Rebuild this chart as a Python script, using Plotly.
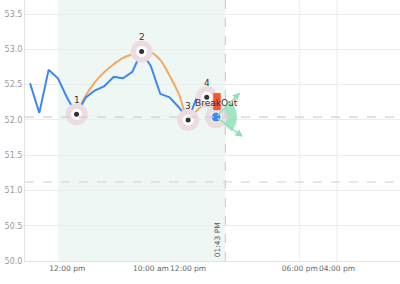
import numpy as np
import plotly.graph_objects as go

# ---- data ----
idx = list(range(21))
price = [52.52, 52.10, 52.71, 52.59, 52.31, 52.08, 52.32, 52.42, 52.48, 52.61,
         52.59, 52.68, 52.97, 52.76, 52.37, 52.32, 52.18, 52.00, 52.34, 52.32, 52.04]
curve_x = [5, 6, 7, 8, 9, 10, 11, 12, 13, 14, 15, 16, 17, 18, 19, 19.7]
curve_y = [52.08, 52.35, 52.54, 52.68, 52.79, 52.88, 52.93, 52.97, 52.96, 52.85,
           52.63, 52.37, 52.03, 52.14, 52.25, 52.30]
pivot_idx = [5, 12, 17, 19]
pivot_labels = ["1", "2", "3", "4"]
breakout_idx = 20
breakout_box = [19.7, 20.5, 52.14, 52.38]   # x0, x1, y0, y1
support_levels = [52.04, 51.12]
shade_range = [3, 21]
marker_time_idx = 21
marker_time_label = "01:43 PM"
tick_vals = [4, 13, 17, 29, 33]
tick_text = ["12:00 pm", "10:00 am", "12:00 pm", "06:00 pm", "04:00 pm"]
arrow_tips = [(22.6, 52.39), (22.9, 51.76)]
x_range = [-0.54, 39.78]
y_range = [50.0, 53.70]

# ---- layout geometry ----
W, H = 400, 284
ML, MR, MT, MB = 25, 0, 0, 23
pw, ph = W - ML - MR, H - MT - MB
px_per_x = pw / (x_range[1] - x_range[0])
px_per_y = ph / (y_range[1] - y_range[0])

fig = go.Figure()

blue = "#3d87ef"
halo = "#ecdce1"

fig.add_trace(go.Scatter(x=curve_x, y=curve_y, mode="lines", line=dict(color="#f6a862", width=2, shape="spline"),
                         hoverinfo="skip"))
fig.add_trace(go.Scatter(x=idx, y=price, mode="lines", line=dict(color=blue, width=2), hoverinfo="skip"))

# breakout box
fig.add_shape(type="rect", x0=breakout_box[0], x1=breakout_box[1], y0=breakout_box[2], y1=breakout_box[3],
              fillcolor="#f2582b", line=dict(width=0), layer="above")

# sector (fan) at breakout
bx, by = breakout_idx, price[breakout_idx]
ang = np.radians(np.linspace(-42, 50, 30))
r = 21
sx = [bx] + list(bx + r * np.cos(ang) / px_per_x) + [bx]
sy = [by] + list(by + r * np.sin(ang) / px_per_y) + [by]
fig.add_trace(go.Scatter(x=sx, y=sy, mode="lines", fill="toself", fillcolor="rgba(130,222,175,0.75)",
                         line=dict(width=0), hoverinfo="skip"))

# pivot halos
pvx = pivot_idx + [breakout_idx]
pvy = [price[i] for i in pivot_idx] + [price[breakout_idx]]
fig.add_trace(go.Scatter(x=pvx, y=pvy, mode="markers", marker=dict(size=22, color=halo), hoverinfo="skip"))
fig.add_trace(go.Scatter(x=pvx, y=pvy, mode="markers", marker=dict(size=11, color="white"), hoverinfo="skip"))
fig.add_trace(go.Scatter(x=pivot_idx, y=[price[i] for i in pivot_idx], mode="markers",
                         marker=dict(size=5, color="#333333"), hoverinfo="skip"))
fig.add_trace(go.Scatter(x=[bx], y=[by], mode="markers", marker=dict(size=9, color=blue), hoverinfo="skip"))

# support lines
for lv in support_levels:
    fig.add_shape(type="line", xref="paper", x0=0, x1=1, y0=lv, y1=lv,
                  line=dict(color="#cfcfcf", width=1.2, dash="dash"), layer="above")

# shaded range
fig.add_shape(type="rect", x0=shade_range[0], x1=shade_range[1], yref="paper", y0=0, y1=1,
              fillcolor="#eef7f3", line=dict(width=0), layer="below")
# vertical grid lines outside shade
for tv in tick_vals:
    if not (shade_range[0] <= tv <= shade_range[1]):
        fig.add_shape(type="line", x0=tv, x1=tv, yref="paper", y0=0, y1=1,
                      line=dict(color="#ececec", width=1), layer="below")
# time marker line
fig.add_shape(type="line", x0=marker_time_idx, x1=marker_time_idx, yref="paper", y0=0, y1=1,
              line=dict(color="#cfcfcf", width=1.2, dash="dash"), layer="above")

anns = []
for i, lab in zip(pivot_idx, pivot_labels):
    anns.append(dict(x=i, y=price[i], text=lab, showarrow=False, yshift=14,
                     font=dict(size=9, color="#333", family="DejaVu Sans")))
anns.append(dict(x=bx, y=by, text="BreakOut", showarrow=False, yshift=14,
                 font=dict(size=9, color="#333", family="DejaVu Sans")))
for tx, ty in arrow_tips:
    anns.append(dict(x=tx, y=ty, ax=bx, ay=by, axref="x", ayref="y", xref="x", yref="y", text="",
                     showarrow=True, arrowhead=2, arrowsize=1, arrowwidth=1.5, arrowcolor="#94dfba"))
anns.append(dict(x=marker_time_idx, y=y_range[0], text=marker_time_label, textangle=-90, showarrow=False,
                 xanchor="right", yanchor="bottom", xshift=-1, yshift=2,
                 font=dict(size=7.5, color="#555", family="DejaVu Sans")))

fig.update_layout(
    width=W, height=H, margin=dict(l=ML, r=MR, t=MT, b=MB),
    paper_bgcolor="white", plot_bgcolor="white", showlegend=False,
    annotations=anns,
    font=dict(family="DejaVu Sans", size=7.5, color="#888"),
    xaxis=dict(range=x_range, tickvals=tick_vals, ticktext=tick_text, showgrid=False, zeroline=False,
               showline=True, linecolor="#e3e3e3", linewidth=1, ticks="", tickangle=0, automargin=False,
               tickfont=dict(size=7.5, color="#666")),
    yaxis=dict(range=y_range, dtick=0.5, tick0=50, tickformat=".1f", showgrid=True, gridcolor="#ececec",
               zeroline=False, showline=True, linecolor="#e3e3e3", linewidth=1, ticks="", automargin=False,
               tickfont=dict(size=8, color="#999")),
)

fig.write_html("out.html")
